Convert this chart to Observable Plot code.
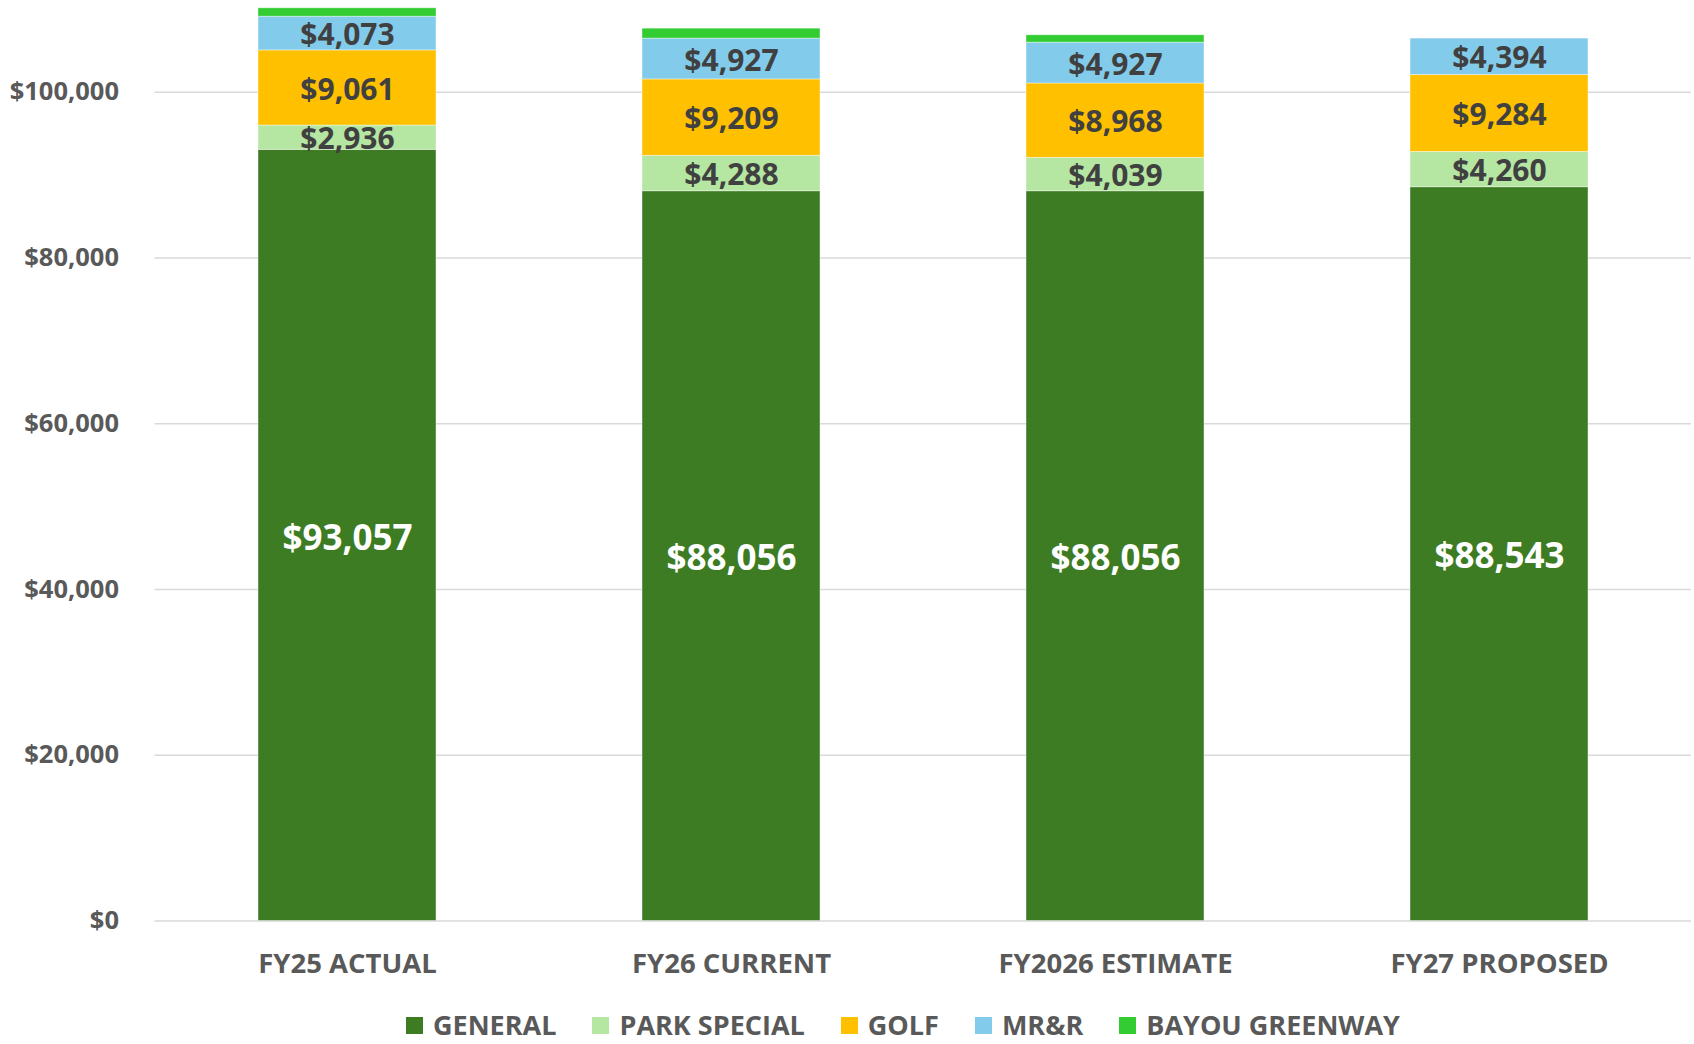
<!DOCTYPE html>
<html>
<head>
<meta charset="utf-8">
<script src="https://cdn.jsdelivr.net/npm/d3@7"></script>
<script src="https://cdn.jsdelivr.net/npm/@observablehq/plot@0.6"></script>
<style>
  html, body { margin: 0; padding: 0; background: #fff; overflow: hidden; }
  #wrap { width: 1694px; font-family: "Open Sans", sans-serif; }
  #legend { display: flex; align-items: center; height: 28px; padding-top: 11px; margin-left: 406px; gap: 36px; }
  .item { display: flex; align-items: center; gap: 10px; font-size: 27px; line-height: 28px; font-weight: 700; color: #595959; }
  .sw { width: 17px; height: 17px; display: inline-block; }
</style>
</head>
<body>
<div id="wrap"><div id="chart"></div><div id="legend"></div></div>
<script>
const categories = ["FY25 ACTUAL", "FY26 CURRENT", "FY2026 ESTIMATE", "FY27 PROPOSED"];
const funds = ["GENERAL", "PARK SPECIAL", "GOLF", "MR&R", "BAYOU GREENWAY"];
const general = [93057, 88056, 88056, 88543];
const parkSpecial = [2936, 4288, 4039, 4260];
const golf = [9061, 9209, 8968, 9284];
const mrr = [4073, 4927, 4927, 4394];
const bayouGreenway = [1010, 1200, 890, 0];
const fundColors = ["#3D7C22", "#B5E6A2", "#FFC000", "#83CBEB", "#33CC33"];
const yTicks = [0, 20000, 40000, 60000, 80000, 100000];

const series = [general, parkSpecial, golf, mrr, bayouGreenway];
const rows = [];
categories.forEach((cat, i) => {
  funds.forEach((fund, j) => rows.push({cat, fund, value: series[j][i]}));
});
const money = d => "$" + d3.format(",")(d);

const chart = Plot.plot({
  width: 1694,
  height: 1000,
  marginLeft: 154.5,
  marginRight: 3,
  marginTop: 0,
  marginBottom: 79.5,
  style: {fontFamily: "Open Sans, sans-serif", background: "#fff"},
  x: {domain: categories, paddingInner: 0.536, paddingOuter: 0.268, label: null},
  y: {domain: [0, 111078], label: null},
  color: {domain: funds, range: fundColors},
  marks: [
    Plot.ruleY(yTicks, {stroke: "#D9D9D9", strokeWidth: 1.6}),
    Plot.barY(rows, Plot.stackY({x: "cat", y: "value", z: "fund", fill: "fund", order: null,
      stroke: "#fff", strokeOpacity: 0.5, strokeWidth: 0.8})),
    Plot.text(rows, Plot.stackY({x: "cat", y: "value", z: "fund", order: null,
      text: d => d.fund === "GENERAL" ? money(d.value) : "",
      fill: "#fff", fontSize: 35, fontWeight: 700, dy: 3})),
    Plot.text(rows, Plot.stackY({x: "cat", y: "value", z: "fund", order: null,
      text: d => (d.fund === "GENERAL" || d.fund === "BAYOU GREENWAY" || !d.value) ? "" : money(d.value),
      fill: "#404040", fontSize: 30, fontWeight: 700, dy: 2})),
    Plot.axisY({ticks: yTicks, tickFormat: money, tickSize: 0, tickPadding: 36,
      fontSize: 25.5, fontWeight: 700, fill: "#595959", label: null}),
    Plot.axisX({tickSize: 0, tickPadding: 32, fontSize: 27.5, fontWeight: 700, fill: "#595959", label: null})
  ]
});
document.getElementById("chart").appendChild(chart);

const legend = document.getElementById("legend");
funds.forEach((f, i) => {
  const it = document.createElement("div");
  it.className = "item";
  const sw = document.createElement("span");
  sw.className = "sw";
  sw.style.background = fundColors[i];
  const t = document.createElement("span");
  t.textContent = f;
  it.appendChild(sw); it.appendChild(t);
  legend.appendChild(it);
});
</script>
</body>
</html>
